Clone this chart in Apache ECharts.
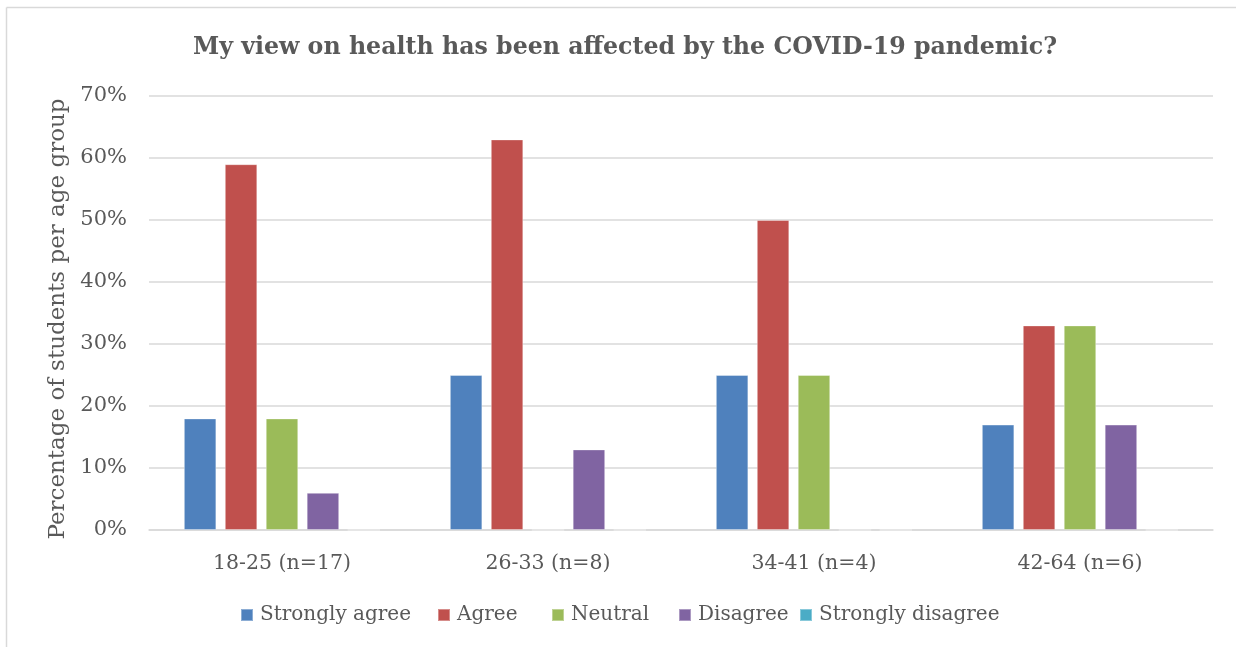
<!DOCTYPE html>
<html>
<head>
<meta charset="utf-8">
<style>
  html, body { margin: 0; padding: 0; background: #ffffff; overflow: hidden; }
  #chart { width: 1236px; height: 647px; }
</style>
<script src="https://cdn.jsdelivr.net/npm/echarts@6/dist/echarts.min.js"></script>
</head>
<body>
<div id="chart"></div>
<script>
// Age groups on the category axis
const ageGroups = ['18-25 (n=17)', '26-33 (n=8)', '34-41 (n=4)', '42-64 (n=6)'];

// Percentage of students giving each answer, per age group
const stronglyAgree    = [18, 25, 25, 17];
const agree            = [59, 63, 50, 33];
const neutral          = [18, 0, 25, 33];
const disagree         = [6, 13, 0, 17];
const stronglyDisagree = [0, 0, 0, 0];

// Value axis ticks
const yTicks = [0, 10, 20, 30, 40, 50, 60, 70];

const seriesNames  = ['Strongly agree', 'Agree', 'Neutral', 'Disagree', 'Strongly disagree'];
const seriesValues = [stronglyAgree, agree, neutral, disagree, stronglyDisagree];
const palette      = ['#4F81BD', '#C0504D', '#9BBB59', '#8064A2', '#4BACC6'];

const FONT = '"DejaVu Serif", "Liberation Serif", serif';
const TEXT = '#595959';
const FRAME = { stroke: '#d9d9d9', lineWidth: 1.5 };

// left edge of each legend entry along the bottom row
const legendLefts = [240, 437, 551, 678, 799];

const chart = echarts.init(document.getElementById('chart'), null, { renderer: 'canvas' });

chart.setOption({
  backgroundColor: '#ffffff',
  animation: false,
  color: palette,
  // chart-area frame: top and left edges
  graphic: [
    { type: 'line', silent: true, shape: { x1: 6.5, y1: 7.5, x2: 1236, y2: 7.5 }, style: FRAME },
    { type: 'line', silent: true, shape: { x1: 6.5, y1: 7.5, x2: 6.5, y2: 647 }, style: FRAME }
  ],
  title: {
    text: 'My view on health has been affected by the COVID-19 pandemic?',
    left: 625,
    textAlign: 'center',
    top: 36,
    padding: 0,
    textStyle: { fontFamily: FONT, fontWeight: 'bold', fontSize: 23.7, color: TEXT }
  },
  legend: seriesNames.map((name, i) => ({
    data: [name],
    left: legendLefts[i],
    top: 605,
    padding: 0,
    icon: 'rect',
    itemWidth: 12,
    itemHeight: 12,
    selectedMode: false,
    textStyle: { fontFamily: FONT, fontSize: 20, color: TEXT, padding: [0, 0, 0, 2] }
  })),
  grid: { left: 149, right: 23, top: 96, bottom: 117, containLabel: false },
  xAxis: {
    type: 'category',
    data: ageGroups,
    axisLine: { show: true, lineStyle: { color: '#d9d9d9', width: 1.5 } },
    axisTick: { show: false },
    axisLabel: { fontFamily: FONT, fontSize: 20.5, color: TEXT, margin: 23 }
  },
  yAxis: {
    type: 'value',
    min: yTicks[0],
    max: yTicks[yTicks.length - 1],
    interval: yTicks[1] - yTicks[0],
    name: 'Percentage of students per age group',
    nameLocation: 'middle',
    nameGap: 79,
    nameRotate: 90,
    nameTextStyle: { fontFamily: FONT, fontSize: 23, color: TEXT, padding: [0, 12, 0, 0] },
    axisLine: { show: false },
    axisTick: { show: false },
    axisLabel: { fontFamily: FONT, fontSize: 21, color: TEXT, margin: 22, formatter: '{value}%' },
    splitLine: { show: true, lineStyle: { color: '#d9d9d9', width: 1.5 } }
  },
  series: seriesNames.map((name, i) => ({
    name: name,
    type: 'bar',
    data: seriesValues[i],
    barWidth: 32.5,
    barGap: '26%',
    barCategoryGap: '26%',
    itemStyle: { color: palette[i], borderColor: 'rgba(255,255,255,0.35)', borderWidth: 1 }
  }))
});
</script>
</body>
</html>
